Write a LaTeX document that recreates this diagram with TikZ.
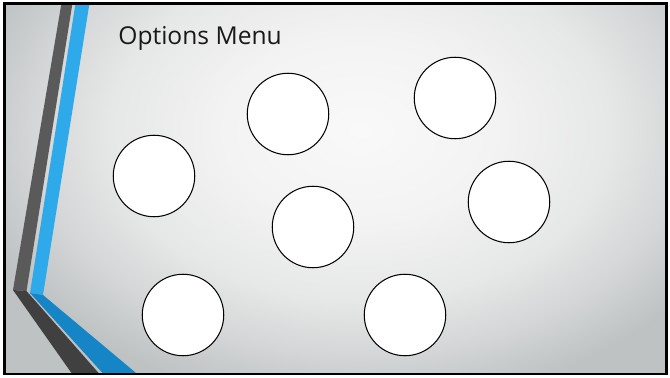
\documentclass[tikz,border=0pt]{standalone}
\usepackage{fontspec}
\newfontfamily\slidefont{Open Sans}
\usepackage{xcolor}
\usepackage{tikz}
\usetikzlibrary{positioning}
\definecolor{bgin}{RGB}{249,249,249}
\definecolor{bgmid}{RGB}{243,243,243}
\definecolor{bgedge}{RGB}{230,231,231}
\definecolor{bglow}{RGB}{212,214,215}
\definecolor{bgout}{RGB}{190,194,195}
\definecolor{stripegray}{RGB}{90,90,90}
\definecolor{stripedark}{RGB}{64,64,64}
\definecolor{stripeblue}{RGB}{46,170,235}
\definecolor{stripedeep}{RGB}{21,133,197}
\pgfdeclareradialshading{slidebg}{\pgfpoint{0bp}{0bp}}{%
  color(0bp)=(bgin); color(7bp)=(bgmid); color(13bp)=(bgedge);
  color(17bp)=(bglow); color(21bp)=(bgout); color(50bp)=(bgout)}

\begin{document}
\begin{tikzpicture}[
  x=0.02cm, y=-0.02cm,
  optcircle/.style={draw=black, line width=0.6pt, circle, fill=white,
                    minimum size=1.63cm, inner sep=0pt},
  slidetitle/.style={font=\slidefont\fontsize{14}{16}\selectfont, text=black!90,
                     anchor=base west, inner sep=0pt},
]
  \useasboundingbox (0,0) rectangle (670,378);
  % background
  \begin{scope}
    \clip (4.5,3.5) rectangle (666.5,374);
    \shade[shading=slidebg] (-120,-200) rectangle (840,460);
    % stripes on the left
    \fill[stripegray] (62,0) -- (73,0) -- (26.5,291) -- (13,290) -- cycle;
    \fill[stripedark] (13,290) -- (26.5,291) -- (103,378) -- (75,378) -- cycle;
    \fill[stripeblue] (76,0) -- (90,0) -- (43,295) -- (30,293) -- cycle;
    \fill[stripedeep] (30,293) -- (43,295) -- (142,378) -- (107,378) -- cycle;
  \end{scope}
  \draw[line width=1.7pt] (4.5,3.5) rectangle (666.5,374);
  % title
  \node[slidetitle] (title) at (118,45) {Options Menu};
  % option circles
  \node[optcircle] (opt1) at (154,176) {};
  \node[optcircle] (opt2) at (288,114) {};
  \node[optcircle] (opt3) at (455,98) {};
  \node[optcircle] (opt4) at (313,227) {};
  \node[optcircle] (opt5) at (509,202) {};
  \node[optcircle] (opt6) at (183,315) {};
  \node[optcircle] (opt7) at (405,315) {};
\end{tikzpicture}
\end{document}
